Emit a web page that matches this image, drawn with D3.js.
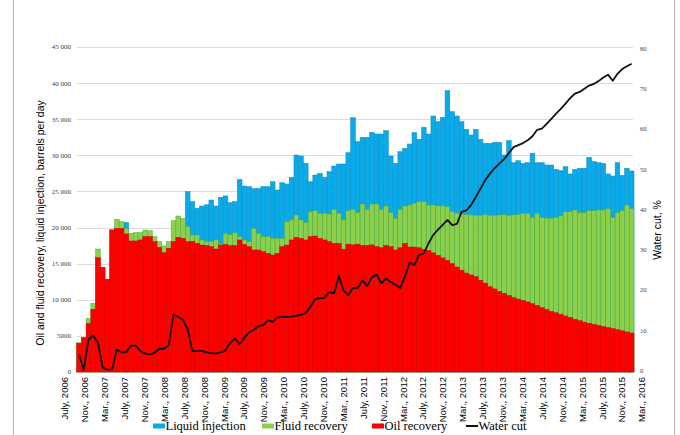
<!DOCTYPE html>
<html>
<head>
<meta charset="utf-8">
<script src="https://cdn.jsdelivr.net/npm/d3@7"></script>
<style>
  body { margin: 0; background: #fff; }
  svg { display: block; }
</style>
</head>
<body>
<div id="chart"></div>
<script>
// Data (barrels per day, water cut in %)

const oilRecovery = [
  3970, 4750, 6740, 8680, 15830, 14490, 12830, 19660, 19890, 19890,
  19110, 18140, 18140, 18280, 18740, 18740, 18050, 17260, 16520, 17120,
  18050, 18650, 18510, 18050, 18050, 17820, 17580, 17500, 17350, 17030,
  17580, 17660, 17500, 17500, 18280, 17660, 17350, 16890, 16890, 16660,
  16430, 16200, 16430, 17350, 17580, 18280, 18650, 18510, 18280, 18740,
  18830, 18510, 18280, 18050, 17810, 17810, 16990, 17700, 17600, 17700,
  17520, 17520, 17600, 17350, 17200, 17520, 17350, 16890, 17200, 17810,
  17300, 17300, 17200, 17000, 16840, 16500, 16150, 15800, 15460, 15000,
  14540, 14100, 13700, 13450, 13200, 12700, 12300, 11800, 11500, 11150,
  10900, 10600, 10300, 10100, 9900, 9700, 9450, 9200, 8900, 8650,
  8400, 8200, 8000, 7750, 7550, 7300, 7100, 6900, 6750, 6600,
  6450, 6300, 6150, 6000, 5850, 5700, 5550, 5400
];

const fluidRecovery = [
  4050, 4800, 7430, 9510, 17030, 14490, 12830, 19750, 21140, 20810,
  19890, 19200, 19290, 19290, 19660, 19570, 18740, 18050, 17450, 18050,
  20950, 21600, 21280, 20120, 18970, 18970, 18280, 18050, 18050, 18280,
  17720, 19200, 19000, 19290, 18740, 18280, 18050, 19890, 19200, 18740,
  18740, 18510, 18510, 18510, 20810, 21050, 21740, 21050, 20680, 22200,
  22340, 21970, 22000, 21880, 22520, 21970, 21050, 22340, 22520, 22060,
  23260, 22520, 23260, 23260, 22520, 22980, 22060, 21280, 22520, 22980,
  23120, 23350, 23580, 23580, 23120, 23120, 23000, 23000, 22890, 22200,
  22000, 21900, 21800, 21750, 21700, 21700, 21800, 21700, 21700, 21750,
  21800, 21700, 21750, 21800, 21970, 21970, 21410, 21970, 21400, 21300,
  21300, 21400, 21600, 22200, 22200, 22430, 22060, 22060, 22340, 22340,
  22430, 22430, 22600, 21410, 22060, 22340, 23120, 22600
];

// 0 where the injection bar is hidden behind the recovery bars
const liquidInjection = [
  0, 0, 0, 0, 0, 0, 0, 0, 0, 0,
  20720, 0, 0, 0, 0, 0, 0, 0, 0, 0,
  0, 0, 0, 24970, 23590, 22660, 22980, 23150, 23810, 22980,
  24190, 24380, 23450, 23590, 26680, 25750, 25660, 25380, 25380, 25660,
  25660, 26350, 25200, 26210, 26030, 26950, 30050, 29910, 28890, 26350,
  27280, 27510, 26950, 27740, 28520, 28800, 28800, 30370, 35210, 31890,
  32490, 32490, 33180, 32950, 32950, 33410, 29910, 28890, 30510, 30970,
  31570, 33140, 32220, 33880, 32950, 35450, 34660, 35260, 38950, 36050,
  35450, 34660, 33600, 32820, 33600, 32220, 31660, 31660, 31800, 31800,
  30050, 32030, 28980, 29260, 28890, 28980, 30280, 28980, 28980, 28660,
  28660, 28060, 27880, 28430, 27420, 28060, 28200, 28200, 29730, 29130,
  28980, 28890, 27420, 27140, 28980, 27230, 28200, 27830
];

const waterCut = [
  4.0, 0.2, 7.7, 8.7, 6.9, 0.7, 0.2, 0.3, 5.2, 4.5,
  4.6, 6.2, 6.2, 4.8, 4.2, 4.0, 4.4, 5.4, 5.4, 6.3,
  13.9, 13.3, 12.6, 10.3, 4.8, 4.8, 4.9, 4.5, 4.3, 4.2,
  4.5, 5.0, 6.9, 7.9, 6.6, 8.1, 9.5, 10.1, 11.0, 11.3,
  12.5, 12.1, 13.2, 13.3, 13.3, 13.4, 13.6, 13.8, 14.3, 15.9,
  17.7, 17.9, 18.1, 19.5, 19.2, 23.5, 19.9, 18.7, 20.5, 20.5,
  22.4, 21.0, 23.2, 23.8, 21.7, 22.8, 22.0, 21.3, 20.5, 23.3,
  26.8, 26.2, 28.7, 29.1, 31.6, 33.7, 35.0, 36.2, 37.4, 36.1,
  36.4, 39.4, 39.8, 41.1, 43.1, 45.2, 47.3, 48.9, 50.3, 51.4,
  52.5, 54.0, 55.5, 56.0, 56.5, 57.2, 58.2, 59.8, 60.1, 61.3,
  62.5, 63.8, 65.0, 66.3, 67.7, 68.8, 69.2, 70.0, 70.8, 71.2,
  71.9, 72.8, 73.5, 72.0, 73.7, 74.9, 75.6, 76.2
];

const tickLabels = [
  "July, 2006", "Nov., 2006", "Mar., 2007", "July, 2007", "Nov., 2007",
  "Mar., 2008", "July, 2008", "Nov., 2008", "Mar., 2009", "July, 2009",
  "Nov., 2009", "Mar., 2010", "July, 2010", "Nov., 2010", "Mar., 2011",
  "July, 2011", "Nov., 2011", "Mar., 2012", "July, 2012", "Nov., 2012",
  "Mar., 2013", "July, 2013", "Nov., 2013", "Mar., 2014", "July, 2014",
  "Nov., 2014", "Mar., 2015", "July, 2015", "Nov., 2015", "Mar., 2016"
];

const leftTicks = [0, 5000, 10000, 15000, 20000, 25000, 30000, 35000, 40000, 45000];
const rightTicks = [0, 10, 20, 30, 40, 50, 60, 70, 80];

// one category per month, July 2006 .. April 2016
const months = d3.range(oilRecovery.length);

// Chart

const width = 680;
const height = 435;
const plot = { left: 76.7, right: 634, top: 47, bottom: 372 };

const svg = d3
  .select("#chart")
  .append("svg")
  .attr("width", width)
  .attr("height", height);

// frame lines
svg.append("line").attr("x1", 13.5).attr("x2", 13.5).attr("y1", 0).attr("y2", height)
  .attr("stroke", "#b4b4b4");
svg.append("line").attr("x1", 674.5).attr("x2", 674.5).attr("y1", 0).attr("y2", height)
  .attr("stroke", "#b4b4b4");

const xScale = d3
  .scaleBand()
  .domain(months)
  .range([plot.left, plot.right])
  .padding(0);

const yScale = d3.scaleLinear().domain([0, 45000]).range([plot.bottom, plot.top]);
const y2Scale = d3.scaleLinear().domain([0, 80]).range([370.5, 48.5]);
const labelScale = d3.scalePoint().domain(tickLabels).range([65, 642]);

// gridlines
svg
  .append("g")
  .selectAll("line")
  .data(leftTicks)
  .enter()
  .append("line")
  .attr("x1", plot.left)
  .attr("x2", 633)
  .attr("y1", (d) => Math.round(yScale(d)) + 0.5)
  .attr("y2", (d) => Math.round(yScale(d)) + 0.5)
  .attr("stroke", "#dcdcdc");

// bars: injection behind, then fluid, then oil in front
const series = [
  { values: liquidInjection, fill: "#0aaae8", stroke: "#0b8dc6" },
  { values: fluidRecovery, fill: "#8ccf4d", stroke: "#4fae3a" },
  { values: oilRecovery, fill: "#ff0000", stroke: "#d70000" },
];

series.forEach(function (s) {
  svg
    .append("g")
    .selectAll("rect")
    .data(s.values.map((v, i) => ({ i: i, v: v })).filter((d) => d.v > 0))
    .enter()
    .append("rect")
    .attr("x", (d) => xScale(d.i))
    .attr("y", (d) => yScale(d.v))
    .attr("width", xScale.bandwidth())
    .attr("height", (d) => plot.bottom - yScale(d.v))
    .style("fill", s.fill)
    .style("stroke", s.stroke)
    .style("stroke-width", 0.5);
});

// water cut line
const line = d3
  .line()
  .x((d, i) => xScale(i) + xScale.bandwidth() / 2)
  .y((d) => y2Scale(d));

svg
  .append("path")
  .datum(waterCut)
  .attr("d", line)
  .attr("fill", "none")
  .attr("stroke", "#111")
  .attr("stroke-width", 1.8)
  .attr("stroke-linejoin", "round");

// Axes

const leftFormat = (d) => (d >= 10000 ? d3.format(",")(d).replace(",", " ") : String(d));

svg
  .append("g")
  .selectAll("text")
  .data(leftTicks)
  .enter()
  .append("text")
  .attr("x", 71)
  .attr("y", (d) => yScale(d))
  .attr("dy", "0.35em")
  .attr("text-anchor", "end")
  .style("font", "7px 'Liberation Serif'")
  .style("fill", "#404040")
  .text(leftFormat);

svg
  .append("g")
  .selectAll("text")
  .data(rightTicks)
  .enter()
  .append("text")
  .attr("x", 640)
  .attr("y", (d) => y2Scale(d))
  .attr("dy", "0.35em")
  .style("font", "6.5px 'Liberation Serif'")
  .style("fill", "#404040")
  .text((d) => d);

svg
  .append("g")
  .selectAll("text")
  .data(tickLabels)
  .enter()
  .append("text")
  .attr("transform", (d) => `translate(${labelScale(d)}, 377) rotate(-90)`)
  .attr("dy", "0.35em")
  .attr("text-anchor", "end")
  .style("font", "9.5px 'Liberation Sans'")
  .style("fill", "#000")
  .text((d) => d);

svg
  .append("text")
  .attr("transform", "translate(40, 223) rotate(-90)")
  .attr("dy", "0.35em")
  .attr("text-anchor", "middle")
  .style("font", "10.5px 'Liberation Sans'")
  .text("Oil and fluid recovery, liquid injection, barrels per day");

svg
  .append("text")
  .attr("transform", "translate(657, 230) rotate(-90)")
  .attr("dy", "0.35em")
  .attr("text-anchor", "middle")
  .style("font", "10.5px 'Liberation Sans'")
  .text("Water cut, %");

// Legend

const legendItems = [
  { label: "Liquid injection", color: "#0aaae8", type: "rect", x: 153 },
  { label: "Fluid recovery", color: "#8ccf4d", type: "rect", x: 262 },
  { label: "Oil recovery", color: "#ff0000", type: "rect", x: 372 },
  { label: "Water cut", color: "#111", type: "line", x: 466 },
];

const legend = svg.append("g");

legendItems.forEach(function (item) {
  if (item.type === "rect") {
    legend.append("rect")
      .attr("x", item.x).attr("y", 423.5)
      .attr("width", 12).attr("height", 5)
      .style("fill", item.color);
  } else {
    legend.append("line")
      .attr("x1", item.x).attr("x2", item.x + 12)
      .attr("y1", 426).attr("y2", 426)
      .attr("stroke", item.color).attr("stroke-width", 2);
  }
  legend.append("text")
    .attr("x", item.x + 12.5)
    .attr("y", 430)
    .style("font", "12.5px 'Liberation Serif'")
    .style("fill", "#000")
    .text(item.label);
});
</script>
</body>
</html>
